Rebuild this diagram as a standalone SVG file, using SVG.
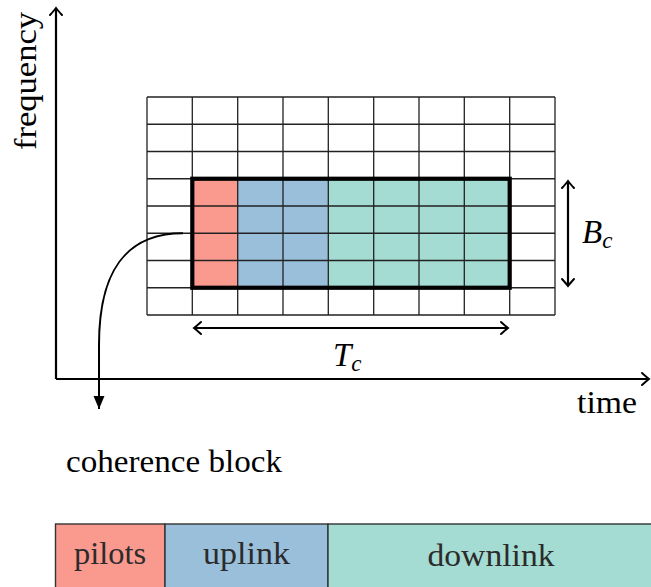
<svg xmlns="http://www.w3.org/2000/svg" width="651" height="587" viewBox="0 0 651 587">
<style>
.t{font-family:'Liberation Serif','DejaVu Serif',serif;font-size:32px;fill:#000}
.m{font-family:'Liberation Serif','DejaVu Serif',serif;font-style:italic;fill:#000}
.bt{font-family:'Liberation Serif','DejaVu Serif',serif;font-size:32px;fill:#2b2b2b;text-anchor:middle}
.g{stroke:#222;stroke-width:1.3;fill:none}
.ax{stroke:#000;stroke-width:2.2;fill:none}
.pil{fill:#fa9a8f}
.upl{fill:#9abfda}
.dl{fill:#a4dbd2}
</style>
<defs>
<marker id="to" markerUnits="userSpaceOnUse" markerWidth="16" markerHeight="16" viewBox="-10 -8 12 16" refX="0" refY="0" orient="auto-start-reverse">
<path d="M-7,-6 Q-2,-1.5 0,0 Q-2,1.5 -7,6" fill="none" stroke="#000" stroke-width="2" stroke-linecap="round"/>
</marker>
<marker id="tri" markerUnits="userSpaceOnUse" markerWidth="16" markerHeight="16" viewBox="-14 -8 16 16" refX="0" refY="0" orient="auto">
<path d="M-13,-5.5 L0,0 L-13,5.5 Z" fill="#000"/>
</marker>
</defs>

<g id="axes">
<line class="ax" x1="56" y1="379" x2="56" y2="8" marker-end="url(#to)"/>
<line class="ax" x1="56" y1="379" x2="649" y2="379" marker-end="url(#to)"/>
<text class="t" transform="translate(36,81) rotate(-90)" text-anchor="middle" textLength="138" lengthAdjust="spacingAndGlyphs">frequency</text>
<text class="t" x="607" y="413" text-anchor="middle" textLength="60" lengthAdjust="spacingAndGlyphs">time</text>
</g>

<g id="grid">
<rect class="pil" x="192.3" y="178.75" width="45.4" height="109"/>
<rect class="upl" x="237.7" y="178.75" width="90.6" height="109"/>
<rect class="dl" x="328.3" y="178.75" width="181.4" height="109"/>
<path class="g" d="M147,97V315M192.3,97V315M237.7,97V315M283,97V315M328.3,97V315M373.7,97V315M419,97V315M464.3,97V315M509.7,97V315M555,97V315
M147,97H555M147,124.25H555M147,151.5H555M147,178.75H555M147,206H555M147,233.25H555M147,260.5H555M147,287.75H555M147,315H555"/>
</g>

<g id="coherence-block">
<rect x="192.3" y="178.75" width="317.4" height="109" fill="none" stroke="#000" stroke-width="4.2"/>
</g>

<g id="connectors">
<line class="ax" x1="194" y1="328" x2="508" y2="328" marker-start="url(#to)" marker-end="url(#to)"/>
<line class="ax" x1="568" y1="181" x2="568" y2="286" marker-start="url(#to)" marker-end="url(#to)"/>
<path d="M183,233.25 C125,233.25 99,272 99,345 L99,409" fill="none" stroke="#000" stroke-width="2" marker-end="url(#tri)"/>
</g>

<g id="labels">
<text class="m" x="333" y="366" font-size="33">T<tspan font-size="23" dy="5">c</tspan></text>
<text class="m" x="582" y="243" font-size="33">B<tspan font-size="23" dy="5">c</tspan></text>
<text class="t" x="66" y="472" textLength="216" lengthAdjust="spacingAndGlyphs">coherence block</text>
</g>

<g id="frame-bar">
<rect class="pil" x="55.5" y="524" width="109.5" height="70" stroke="#333" stroke-width="1.4"/>
<rect class="upl" x="165" y="524" width="163" height="70" stroke="#333" stroke-width="1.4"/>
<rect class="dl" x="328" y="524" width="330" height="70" stroke="#333" stroke-width="1.4"/>
<text class="bt" x="110" y="564" textLength="72" lengthAdjust="spacingAndGlyphs">pilots</text>
<text class="bt" x="246.5" y="564" textLength="87" lengthAdjust="spacingAndGlyphs">uplink</text>
<text class="bt" x="491" y="566" textLength="127" lengthAdjust="spacingAndGlyphs">downlink</text>
</g>
</svg>
